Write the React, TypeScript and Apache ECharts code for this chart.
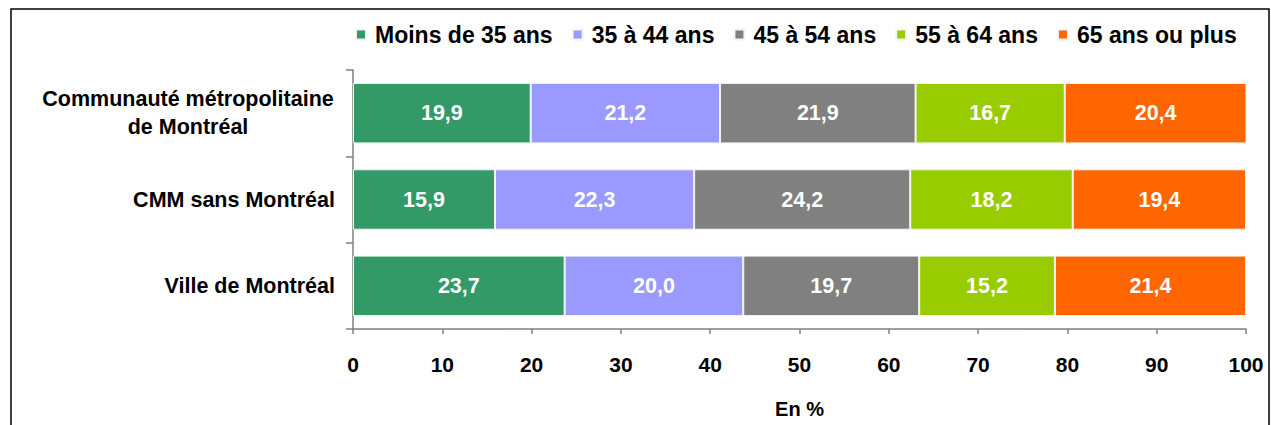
import React, { useEffect, useRef } from "react";
import * as echarts from "echarts";

const categories = ["Communauté métropolitaine\nde Montréal", "CMM sans Montréal", "Ville de Montréal"];
const seriesNames = ["Moins de 35 ans", "35 à 44 ans", "45 à 54 ans", "55 à 64 ans", "65 ans ou plus"];
const moins35 = [19.9, 15.9, 23.7];
const a35_44 = [21.2, 22.3, 20.0];
const a45_54 = [21.9, 24.2, 19.7];
const a55_64 = [16.7, 18.2, 15.2];
const a65plus = [20.4, 19.4, 21.4];
const xTicks = [0, 10, 20, 30, 40, 50, 60, 70, 80, 90, 100];
const colors = ["#339966", "#9999FF", "#808080", "#99CC00", "#FF6600"];

const FONT = "Liberation Sans, Arial, sans-serif";

export default function App() {
  const ref = useRef<HTMLDivElement>(null);
  useEffect(() => {
    if (!ref.current) return;
    document.body.style.margin = "0";
    const chart = echarts.init(ref.current, null, { renderer: "svg" });
    const values = [moins35, a35_44, a45_54, a55_64, a65plus];
    chart.setOption({
      animation: false,
      color: colors,
      textStyle: { fontFamily: FONT },
      legend: {
        data: seriesNames,
        left: 350,
        top: 18,
        icon: "rect",
        itemWidth: 10,
        itemHeight: 10,
        itemGap: 19,
        textStyle: { fontFamily: FONT, fontWeight: "bold", fontSize: 23, color: "#000", padding: [0, 0, 0, 4] },
      },
      grid: { left: 353, right: 25, top: 70, bottom: 96, containLabel: false },
      xAxis: {
        type: "value",
        min: 0,
        max: 100,
        interval: 10,
        name: "En %",
        nameLocation: "middle",
        nameGap: 70,
        nameTextStyle: { fontFamily: FONT, fontWeight: "bold", fontSize: 20, color: "#000" },
        axisLine: { show: true, lineStyle: { color: "#808080", width: 1.5 } },
        axisTick: { show: true, length: 5, inside: false, lineStyle: { color: "#808080", width: 1.5 } },
        axisLabel: {
          margin: 25,
          fontFamily: FONT,
          fontWeight: "bold",
          fontSize: 21,
          color: "#000",
          formatter: (v: number) => (xTicks.includes(v) ? String(v) : ""),
        },
        splitLine: { show: false },
      },
      yAxis: {
        type: "category",
        data: categories,
        inverse: true,
        axisLine: { show: true, lineStyle: { color: "#808080", width: 1.5 } },
        axisTick: { show: true, length: 7, alignWithLabel: false, lineStyle: { color: "#808080", width: 1.5 } },
        axisLabel: {
          margin: 18,
          fontFamily: FONT,
          fontWeight: "bold",
          fontSize: 21.5,
          color: "#000",
          lineHeight: 28,
          formatter: (v: string) => {
            if (v.includes("\n")) {
              return v.split("\n").map((l) => "{c|" + l + "}").join("\n");
            }
            return v;
          },
          rich: {
            c: { width: 294, align: "center", fontFamily: FONT, fontWeight: "bold", fontSize: 21.5, color: "#000", lineHeight: 28 },
          },
        },
      },
      series: seriesNames.map((name, i) => ({
        name,
        type: "bar",
        stack: "total",
        barWidth: "70%",
        data: values[i],
        itemStyle: { color: colors[i], borderColor: "#f4f4f4", borderWidth: 1 },
        label: {
          show: true,
          position: "inside",
          fontFamily: FONT,
          fontWeight: "bold",
          fontSize: 21.5,
          color: "#fff",
          formatter: (p: any) => Number(p.value).toFixed(1).replace(".", ","),
        },
      })),
      graphic: [
        {
          type: "rect",
          shape: { x: 11, y: 9, width: 1258, height: 440 },
          style: { fill: "none", stroke: "#000", lineWidth: 1.5 },
          silent: true,
        },
      ],
    });
    return () => chart.dispose();
  }, []);
  return <div ref={ref} style={{ width: 1271, height: 425 }} />;
}
